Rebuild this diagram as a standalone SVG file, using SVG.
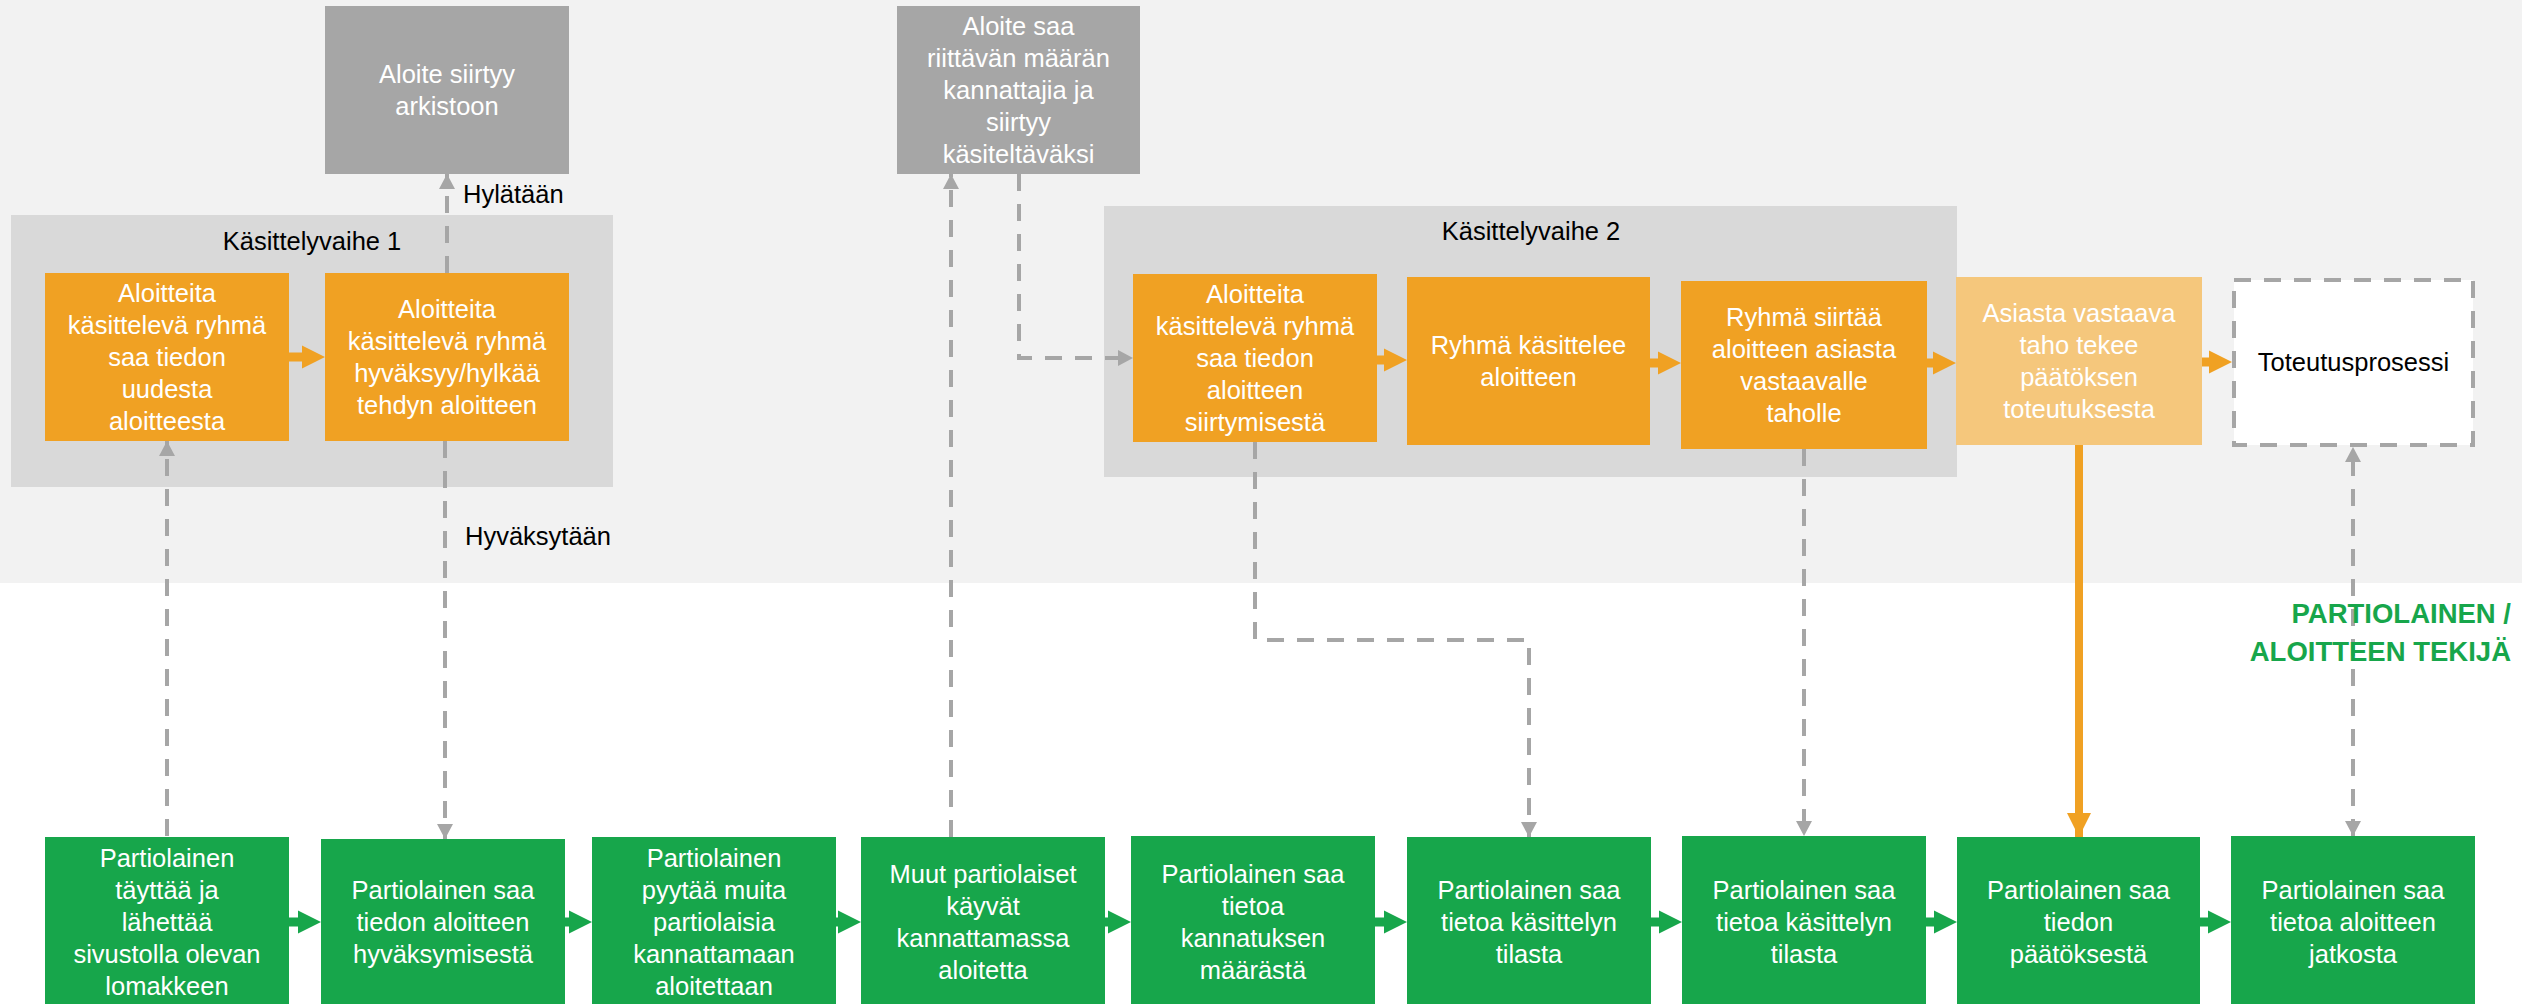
<svg xmlns="http://www.w3.org/2000/svg" width="2522" height="1004" viewBox="0 0 2522 1004">
  <style>
    text { font-family: "Liberation Sans", Arial, sans-serif; font-size: 25.5px; }
    .lbl { fill: #ffffff; text-anchor: middle; }
    .dark { fill: #000000; }
    .mid { text-anchor: middle; }
    .orange { fill: #F0A123; }
    .pale { fill: #F5C77C; }
    .green { fill: #17A64B; }
    .grey { fill: #A6A6A6; }
    .dash { fill: none; stroke: #A6A6A6; stroke-width: 4; stroke-dasharray: 17 13; }
    .role { fill: #17A64B; font-weight: bold; font-size: 27.5px; text-anchor: end; }
  </style>
  <defs>
    <marker id="gh" markerUnits="userSpaceOnUse" markerWidth="16" markerHeight="16" refX="15" refY="8" orient="auto-start-reverse">
      <path d="M0,0 L15,8 L0,16 Z" fill="#A6A6A6"/>
    </marker>
    <marker id="oh" markerUnits="userSpaceOnUse" markerWidth="24" markerHeight="24" refX="24" refY="12" orient="auto">
      <path d="M0,0 L24,12 L0,24 Z" fill="#F0A123"/>
    </marker>
    <!-- block arrow, tip at origin -->
    <path id="blk" d="M-36,-4.5 H-23 V-11.5 L0,0 L-23,11.5 V4.5 H-36 Z"/>
  </defs>

  <!-- background bands -->
  <rect x="0" y="0" width="2522" height="583" fill="#F2F2F2"/>
  <rect x="0" y="583" width="2522" height="421" fill="#FFFFFF"/>

  <!-- processing stage panels -->
  <g id="stage1">
    <rect x="11" y="215" width="602" height="272" fill="#D9D9D9"/>
    <text class="dark mid" x="312" y="250">Käsittelyvaihe 1</text>
  </g>
  <g id="stage2">
    <rect x="1104" y="206" width="853" height="271" fill="#D9D9D9"/>
    <text class="dark mid" x="1531" y="240">Käsittelyvaihe 2</text>
  </g>

  <!-- connectors -->
  <g id="connectors">
    <path class="dash" d="M167,836 V441" marker-end="url(#gh)"/>
    <path class="dash" d="M447,273 V174" marker-end="url(#gh)"/>
    <path class="dash" d="M445,441 V839" marker-end="url(#gh)"/>
    <path class="dash" d="M951,837 V174" marker-end="url(#gh)"/>
    <path class="dash" d="M1019,174 V358 H1133" marker-end="url(#gh)"/>
    <path class="dash" d="M1255,442 V640 H1529 V837" marker-end="url(#gh)"/>
    <path class="dash" d="M1804,449 V836" marker-end="url(#gh)"/>
    <path d="M2079,445 V837" stroke="#F0A123" stroke-width="8" fill="none" marker-end="url(#oh)"/>
    <path class="dash" d="M2353,836 V447" marker-start="url(#gh)" marker-end="url(#gh)"/>

    <!-- orange block arrows -->
    <use href="#blk" class="orange" transform="translate(325,357)"/>
    <use href="#blk" class="orange" transform="translate(1407,360)"/>
    <use href="#blk" class="orange" transform="translate(1681,363)"/>
    <use href="#blk" class="orange" transform="translate(1956,363)"/>
    <use href="#blk" class="orange" transform="translate(2232,362)"/>

    <!-- green block arrows -->
    <use href="#blk" class="green" transform="translate(321,922)"/>
    <use href="#blk" class="green" transform="translate(592,922)"/>
    <use href="#blk" class="green" transform="translate(861,922)"/>
    <use href="#blk" class="green" transform="translate(1131,922)"/>
    <use href="#blk" class="green" transform="translate(1407,922)"/>
    <use href="#blk" class="green" transform="translate(1682,922)"/>
    <use href="#blk" class="green" transform="translate(1957,922)"/>
    <use href="#blk" class="green" transform="translate(2231,922)"/>

    <text class="dark" x="463" y="203">Hylätään</text>
    <text class="dark" x="465" y="545">Hyväksytään</text>
  </g>

  <!-- grey outcome nodes -->
  <g id="archive">
    <rect class="grey" x="325" y="6" width="244" height="168"/>
    <text class="lbl" x="447" y="83">Aloite siirtyy</text>
    <text class="lbl" x="447" y="115">arkistoon</text>
  </g>
  <g id="supported">
    <rect class="grey" x="897" y="6" width="243" height="168"/>
    <text class="lbl" x="1018.5" y="35">Aloite saa</text>
    <text class="lbl" x="1018.5" y="67">riittävän määrän</text>
    <text class="lbl" x="1018.5" y="99">kannattajia ja</text>
    <text class="lbl" x="1018.5" y="131">siirtyy</text>
    <text class="lbl" x="1018.5" y="163">käsiteltäväksi</text>
  </g>

  <!-- stage 1 nodes -->
  <g id="s1-receive">
    <rect class="orange" x="45" y="273" width="244" height="168"/>
    <text class="lbl" x="167" y="302">Aloitteita</text>
    <text class="lbl" x="167" y="334">käsittelevä ryhmä</text>
    <text class="lbl" x="167" y="366">saa tiedon</text>
    <text class="lbl" x="167" y="398">uudesta</text>
    <text class="lbl" x="167" y="430">aloitteesta</text>
  </g>
  <g id="s1-decide">
    <rect class="orange" x="325" y="273" width="244" height="168"/>
    <text class="lbl" x="447" y="318">Aloitteita</text>
    <text class="lbl" x="447" y="350">käsittelevä ryhmä</text>
    <text class="lbl" x="447" y="382">hyväksyy/hylkää</text>
    <text class="lbl" x="447" y="414">tehdyn aloitteen</text>
  </g>

  <!-- stage 2 nodes -->
  <g id="s2-receive">
    <rect class="orange" x="1133" y="274" width="244" height="168"/>
    <text class="lbl" x="1255" y="303">Aloitteita</text>
    <text class="lbl" x="1255" y="335">käsittelevä ryhmä</text>
    <text class="lbl" x="1255" y="367">saa tiedon</text>
    <text class="lbl" x="1255" y="399">aloitteen</text>
    <text class="lbl" x="1255" y="431">siirtymisestä</text>
  </g>
  <g id="s2-handle">
    <rect class="orange" x="1407" y="277" width="243" height="168"/>
    <text class="lbl" x="1528.5" y="354">Ryhmä käsittelee</text>
    <text class="lbl" x="1528.5" y="386">aloitteen</text>
  </g>
  <g id="s2-transfer">
    <rect class="orange" x="1681" y="281" width="246" height="168"/>
    <text class="lbl" x="1804" y="326">Ryhmä siirtää</text>
    <text class="lbl" x="1804" y="358">aloitteen asiasta</text>
    <text class="lbl" x="1804" y="390">vastaavalle</text>
    <text class="lbl" x="1804" y="422">taholle</text>
  </g>
  <g id="decision">
    <rect class="pale" x="1956" y="277" width="246" height="168"/>
    <text class="lbl" x="2079" y="322">Asiasta vastaava</text>
    <text class="lbl" x="2079" y="354">taho tekee</text>
    <text class="lbl" x="2079" y="386">päätöksen</text>
    <text class="lbl" x="2079" y="418">toteutuksesta</text>
  </g>
  <g id="implementation">
    <rect x="2234" y="280" width="239" height="165" fill="#FFFFFF" stroke="#A6A6A6" stroke-width="4" stroke-dasharray="17 13"/>
    <text class="dark mid" x="2353.5" y="371">Toteutusprosessi</text>
  </g>

  <!-- role label -->
  <g id="role">
    <text class="role" x="2511" y="623">PARTIOLAINEN /</text>
    <text class="role" x="2511" y="661">ALOITTEEN TEKIJÄ</text>
  </g>

  <!-- scout lane nodes -->
  <g id="p1">
    <rect class="green" x="45" y="837" width="244" height="170"/>
    <text class="lbl" x="167" y="867">Partiolainen</text>
    <text class="lbl" x="167" y="899">täyttää ja</text>
    <text class="lbl" x="167" y="931">lähettää</text>
    <text class="lbl" x="167" y="963">sivustolla olevan</text>
    <text class="lbl" x="167" y="995">lomakkeen</text>
  </g>
  <g id="p2">
    <rect class="green" x="321" y="839" width="244" height="168"/>
    <text class="lbl" x="443" y="899">Partiolainen saa</text>
    <text class="lbl" x="443" y="931">tiedon aloitteen</text>
    <text class="lbl" x="443" y="963">hyväksymisestä</text>
  </g>
  <g id="p3">
    <rect class="green" x="592" y="837" width="244" height="170"/>
    <text class="lbl" x="714" y="867">Partiolainen</text>
    <text class="lbl" x="714" y="899">pyytää muita</text>
    <text class="lbl" x="714" y="931">partiolaisia</text>
    <text class="lbl" x="714" y="963">kannattamaan</text>
    <text class="lbl" x="714" y="995">aloitettaan</text>
  </g>
  <g id="p4">
    <rect class="green" x="861" y="837" width="244" height="170"/>
    <text class="lbl" x="983" y="883">Muut partiolaiset</text>
    <text class="lbl" x="983" y="915">käyvät</text>
    <text class="lbl" x="983" y="947">kannattamassa</text>
    <text class="lbl" x="983" y="979">aloitetta</text>
  </g>
  <g id="p5">
    <rect class="green" x="1131" y="836" width="244" height="171"/>
    <text class="lbl" x="1253" y="883">Partiolainen saa</text>
    <text class="lbl" x="1253" y="915">tietoa</text>
    <text class="lbl" x="1253" y="947">kannatuksen</text>
    <text class="lbl" x="1253" y="979">määrästä</text>
  </g>
  <g id="p6">
    <rect class="green" x="1407" y="837" width="244" height="170"/>
    <text class="lbl" x="1529" y="899">Partiolainen saa</text>
    <text class="lbl" x="1529" y="931">tietoa käsittelyn</text>
    <text class="lbl" x="1529" y="963">tilasta</text>
  </g>
  <g id="p7">
    <rect class="green" x="1682" y="836" width="244" height="171"/>
    <text class="lbl" x="1804" y="899">Partiolainen saa</text>
    <text class="lbl" x="1804" y="931">tietoa käsittelyn</text>
    <text class="lbl" x="1804" y="963">tilasta</text>
  </g>
  <g id="p8">
    <rect class="green" x="1957" y="837" width="243" height="170"/>
    <text class="lbl" x="2078.5" y="899">Partiolainen saa</text>
    <text class="lbl" x="2078.5" y="931">tiedon</text>
    <text class="lbl" x="2078.5" y="963">päätöksestä</text>
  </g>
  <g id="p9">
    <rect class="green" x="2231" y="836" width="244" height="171"/>
    <text class="lbl" x="2353" y="899">Partiolainen saa</text>
    <text class="lbl" x="2353" y="931">tietoa aloitteen</text>
    <text class="lbl" x="2353" y="963">jatkosta</text>
  </g>
</svg>
